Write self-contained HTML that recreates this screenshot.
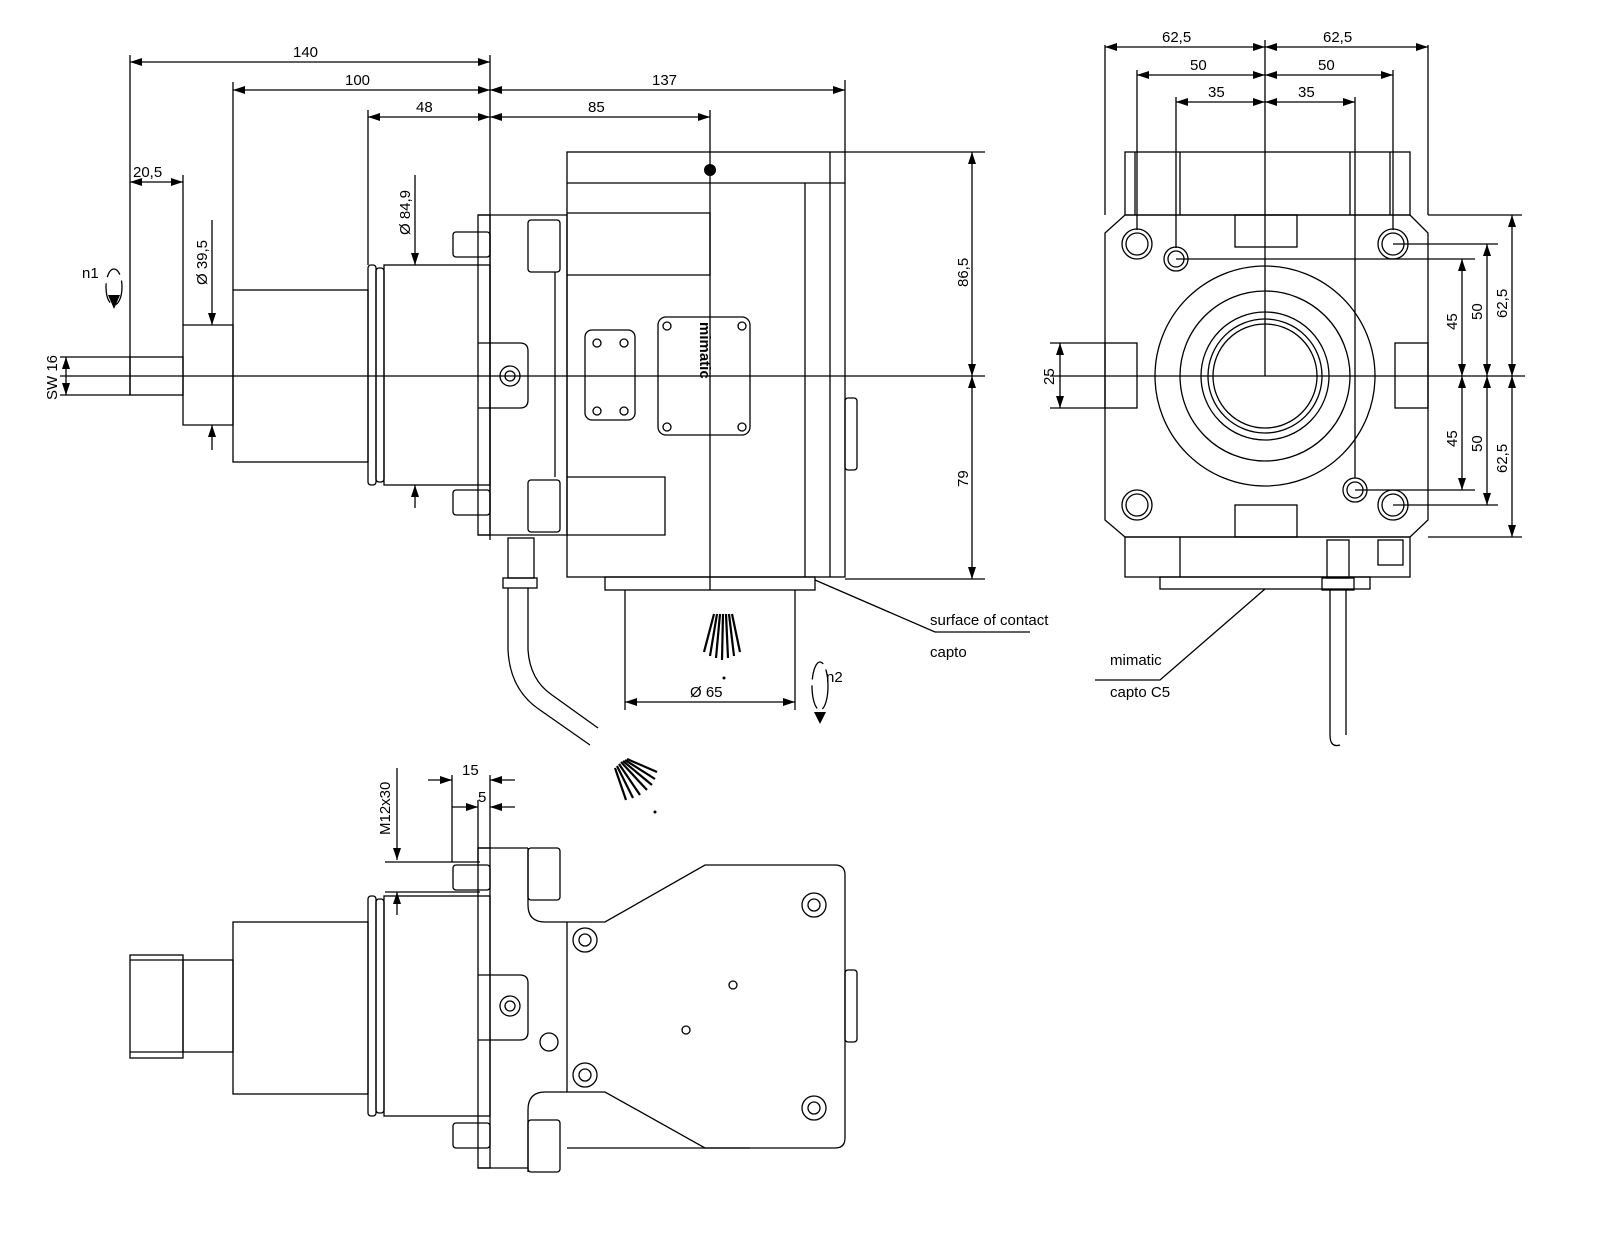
<!DOCTYPE html>
<html><head><meta charset="utf-8"><style>
html,body{margin:0;padding:0;background:#fff}
svg{display:block}
text{font-family:"Liberation Sans",sans-serif;font-size:15px;fill:#000}
</style></head><body>
<svg width="1600" height="1245" viewBox="0 0 1600 1245" xmlns="http://www.w3.org/2000/svg">
<defs>
<marker id="a" markerWidth="12" markerHeight="8" refX="12" refY="4" orient="auto-start-reverse" markerUnits="userSpaceOnUse"><path d="M0,0 L12,4 L0,8 z" fill="#000"/></marker>
</defs>
<g stroke="#000" fill="none" stroke-width="1.3">
<line x1="130" y1="55" x2="130" y2="395"/>
<line x1="233" y1="82" x2="233" y2="290"/>
<line x1="368" y1="110" x2="368" y2="265"/>
<line x1="490" y1="55" x2="490" y2="540"/>
<line x1="845" y1="80" x2="845" y2="152"/>
<line x1="183" y1="175" x2="183" y2="325"/>
<line x1="710" y1="110" x2="710" y2="590"/>
<line x1="130" y1="62" x2="490" y2="62" marker-start="url(#a)" marker-end="url(#a)"/>
<line x1="233" y1="90" x2="490" y2="90" marker-start="url(#a)" marker-end="url(#a)"/>
<line x1="490" y1="90" x2="845" y2="90" marker-start="url(#a)" marker-end="url(#a)"/>
<line x1="368" y1="117" x2="490" y2="117" marker-start="url(#a)" marker-end="url(#a)"/>
<line x1="490" y1="117" x2="710" y2="117" marker-start="url(#a)" marker-end="url(#a)"/>
<line x1="130" y1="182" x2="183" y2="182" marker-start="url(#a)" marker-end="url(#a)"/>
<line x1="212" y1="220" x2="212" y2="325" marker-end="url(#a)"/>
<line x1="212" y1="450" x2="212" y2="425" marker-end="url(#a)"/>
<line x1="415" y1="175" x2="415" y2="265" marker-end="url(#a)"/>
<line x1="415" y1="508" x2="415" y2="485" marker-end="url(#a)"/>
<line x1="60" y1="357" x2="130" y2="357"/><line x1="60" y1="395" x2="130" y2="395"/>
<line x1="66" y1="357" x2="66" y2="395" marker-start="url(#a)" marker-end="url(#a)"/>
<line x1="60" y1="376" x2="985" y2="376"/>
<line x1="845" y1="152" x2="985" y2="152"/><line x1="845" y1="579" x2="985" y2="579"/>
<line x1="972" y1="152" x2="972" y2="376" marker-start="url(#a)" marker-end="url(#a)"/>
<line x1="972" y1="376" x2="972" y2="579" marker-start="url(#a)" marker-end="url(#a)"/>
<rect x="130" y="357" width="53" height="38"/>
<path d="M183 325 H233 V425 H183 Z"/>
<rect x="233" y="290" width="135" height="172"/>
<rect x="368" y="265" width="8" height="220" rx="3"/>
<rect x="376" y="268" width="8" height="214" rx="3"/>
<rect x="384" y="265" width="106" height="220"/>
<rect x="478" y="215" width="12" height="320"/>
<rect x="453" y="232" width="37" height="25" rx="3"/>
<rect x="453" y="490" width="37" height="25" rx="3"/>
<path d="M478 215 H567 V535 H478"/>
<rect x="528" y="220" width="32" height="52" rx="3"/>
<rect x="528" y="480" width="32" height="52" rx="3"/>
<path d="M478 343 H520 Q528 343 528 351 V400 Q528 408 520 408 H478"/>
<circle cx="510" cy="376" r="10"/><circle cx="510" cy="376" r="5"/>
<rect x="567" y="152" width="278" height="425"/>
<line x1="567" y1="183" x2="845" y2="183"/>
<line x1="805" y1="183" x2="805" y2="577"/><line x1="830" y1="152" x2="830" y2="577"/>
<path d="M567 213 H710 V275 H567"/><path d="M567 477 H665 V535 H567"/>
<line x1="555" y1="272" x2="555" y2="477"/>
<rect x="845" y="398" width="12" height="72" rx="3"/>
<rect x="585" y="330" width="50" height="90" rx="7"/>
<circle cx="597" cy="343" r="4"/><circle cx="624" cy="343" r="4"/><circle cx="597" cy="411" r="4"/><circle cx="624" cy="411" r="4"/>
<rect x="658" y="317" width="92" height="118" rx="8"/>
<circle cx="667" cy="326" r="4"/><circle cx="742" cy="326" r="4"/><circle cx="667" cy="427" r="4"/><circle cx="742" cy="427" r="4"/>
<rect x="605" y="577" width="210" height="13"/>
<line x1="625" y1="590" x2="625" y2="710"/><line x1="795" y1="590" x2="795" y2="710"/>
<line x1="625" y1="702" x2="795" y2="702" marker-start="url(#a)" marker-end="url(#a)"/>
<path d="M815 580 L935 632 H1030"/>
<rect x="508" y="538" width="26" height="40"/><rect x="503" y="578" width="34" height="10"/>
<path d="M508 588 V650 Q510 690 540 710 L590 745 M528 588 V650 Q530 680 552 695 L598 728"/>
<ellipse cx="114" cy="287" rx="8" ry="18" stroke-dasharray="20 6"/>
<ellipse cx="820" cy="686" rx="8" ry="24" stroke-dasharray="24 6"/>
<line x1="1105" y1="45" x2="1105" y2="215"/><line x1="1428" y1="45" x2="1428" y2="215"/>
<line x1="1137" y1="70" x2="1137" y2="230"/><line x1="1393" y1="70" x2="1393" y2="230"/>
<line x1="1176" y1="97" x2="1176" y2="248"/><line x1="1355" y1="97" x2="1355" y2="478"/>
<line x1="1265" y1="40" x2="1265" y2="376"/>
<line x1="1105" y1="47" x2="1265" y2="47" marker-start="url(#a)" marker-end="url(#a)"/>
<line x1="1265" y1="47" x2="1428" y2="47" marker-start="url(#a)" marker-end="url(#a)"/>
<line x1="1137" y1="75" x2="1265" y2="75" marker-start="url(#a)" marker-end="url(#a)"/>
<line x1="1265" y1="75" x2="1393" y2="75" marker-start="url(#a)" marker-end="url(#a)"/>
<line x1="1176" y1="102" x2="1265" y2="102" marker-start="url(#a)" marker-end="url(#a)"/>
<line x1="1265" y1="102" x2="1355" y2="102" marker-start="url(#a)" marker-end="url(#a)"/>
<rect x="1125" y="152" width="285" height="63"/>
<line x1="1180" y1="152" x2="1180" y2="215"/><line x1="1350" y1="152" x2="1350" y2="215"/>
<line x1="1390" y1="152" x2="1390" y2="215"/><line x1="1135" y1="152" x2="1135" y2="215"/>
<path d="M1125 215 H1410 L1428 233 V520 L1410 537 H1125 L1105 520 V233 Z"/>
<rect x="1235" y="215" width="62" height="32"/><rect x="1235" y="505" width="62" height="32"/>
<rect x="1105" y="343" width="32" height="65"/><rect x="1395" y="343" width="33" height="65"/>
<circle cx="1265" cy="376" r="110"/><circle cx="1265" cy="376" r="85"/>
<circle cx="1265" cy="376" r="64"/><circle cx="1265" cy="376" r="57"/><circle cx="1265" cy="376" r="52"/>
<circle cx="1137" cy="244" r="15"/><circle cx="1137" cy="244" r="11"/>
<circle cx="1393" cy="244" r="15"/><circle cx="1393" cy="244" r="11"/>
<circle cx="1137" cy="505" r="15"/><circle cx="1137" cy="505" r="11"/>
<circle cx="1393" cy="505" r="15"/><circle cx="1393" cy="505" r="11"/>
<circle cx="1176" cy="259" r="12"/><circle cx="1176" cy="259" r="8"/>
<circle cx="1355" cy="490" r="12"/><circle cx="1355" cy="490" r="8"/>
<line x1="1050" y1="376" x2="1525" y2="376"/>
<line x1="1050" y1="343" x2="1105" y2="343"/><line x1="1050" y1="408" x2="1105" y2="408"/>
<line x1="1060" y1="343" x2="1060" y2="408" marker-start="url(#a)" marker-end="url(#a)"/>
<line x1="1176" y1="259" x2="1475" y2="259"/><line x1="1355" y1="490" x2="1475" y2="490"/>
<line x1="1393" y1="244" x2="1498" y2="244"/><line x1="1393" y1="505" x2="1498" y2="505"/>
<line x1="1428" y1="215" x2="1522" y2="215"/><line x1="1428" y1="537" x2="1522" y2="537"/>
<line x1="1462" y1="259" x2="1462" y2="376" marker-start="url(#a)" marker-end="url(#a)"/>
<line x1="1462" y1="376" x2="1462" y2="490" marker-start="url(#a)" marker-end="url(#a)"/>
<line x1="1487" y1="244" x2="1487" y2="376" marker-start="url(#a)" marker-end="url(#a)"/>
<line x1="1487" y1="376" x2="1487" y2="505" marker-start="url(#a)" marker-end="url(#a)"/>
<line x1="1512" y1="215" x2="1512" y2="376" marker-start="url(#a)" marker-end="url(#a)"/>
<line x1="1512" y1="376" x2="1512" y2="537" marker-start="url(#a)" marker-end="url(#a)"/>
<rect x="1125" y="537" width="285" height="40"/><line x1="1180" y1="537" x2="1180" y2="577"/>
<rect x="1378" y="540" width="25" height="25"/>
<rect x="1160" y="577" width="210" height="12"/>
<path d="M1265 589 L1160 680 H1095"/>
<rect x="1327" y="540" width="22" height="38"/><rect x="1322" y="578" width="32" height="12"/>
<path d="M1330 590 V735 Q1330 748 1340 745 M1346 590 V735"/>
<line x1="397" y1="768" x2="397" y2="860" marker-end="url(#a)"/>
<line x1="397" y1="915" x2="397" y2="892" marker-end="url(#a)"/>
<line x1="385" y1="862" x2="480" y2="862"/><line x1="385" y1="892" x2="480" y2="892"/>
<line x1="452" y1="775" x2="452" y2="862"/><line x1="478" y1="800" x2="478" y2="862"/><line x1="490" y1="775" x2="490" y2="848"/>
<line x1="428" y1="780" x2="452" y2="780" marker-end="url(#a)"/><line x1="515" y1="780" x2="490" y2="780" marker-end="url(#a)"/>
<line x1="452" y1="807" x2="478" y2="807" marker-end="url(#a)"/><line x1="515" y1="807" x2="490" y2="807" marker-end="url(#a)"/>
<rect x="130" y="955" width="53" height="103"/><line x1="130" y1="960" x2="183" y2="960"/>
<line x1="130" y1="1052" x2="183" y2="1052"/>
<rect x="183" y="960" width="50" height="92"/>
<rect x="233" y="922" width="135" height="172"/>
<rect x="368" y="896" width="8" height="220" rx="3"/><rect x="376" y="899" width="8" height="214" rx="3"/>
<rect x="384" y="896" width="106" height="220"/>
<rect x="478" y="848" width="12" height="320"/>
<rect x="453" y="865" width="37" height="25" rx="3"/><rect x="453" y="1123" width="37" height="25" rx="3"/>
<path d="M478 848 H528 M478 1168 H528"/>
<rect x="528" y="848" width="32" height="52" rx="3"/><rect x="528" y="1120" width="32" height="52" rx="3"/>
<path d="M478 975 H520 Q528 975 528 983 V1032 Q528 1040 520 1040 H478"/>
<circle cx="510" cy="1006" r="10"/><circle cx="510" cy="1006" r="5"/>
<circle cx="549" cy="1042" r="9"/>
<path d="M528 848 V905 Q528 922 545 922 H605 L705 865 H835 Q845 865 845 875 V1138 Q845 1148 835 1148 H705 L605 1092 H545 Q528 1092 528 1110 V1172"/>
<path d="M567 922 V1092"/>
<rect x="845" y="970" width="12" height="72" rx="3"/>
<circle cx="585" cy="940" r="12"/><circle cx="585" cy="940" r="6"/>
<circle cx="585" cy="1075" r="12"/><circle cx="585" cy="1075" r="6"/>
<circle cx="814" cy="905" r="12"/><circle cx="814" cy="905" r="6"/>
<circle cx="814" cy="1108" r="12"/><circle cx="814" cy="1108" r="6"/>
<circle cx="733" cy="985" r="4"/><circle cx="686" cy="1030" r="4"/>
<line x1="567" y1="1148" x2="750" y2="1148"/>
</g>
<g stroke="#000" stroke-width="2.2">
<!-- fan 1: rays diverging downward from (722,585) -->
<line x1="714" y1="614" x2="704" y2="652"/>
<line x1="717" y1="614" x2="710" y2="656"/>
<line x1="720" y1="614" x2="716" y2="658"/>
<line x1="723" y1="614" x2="722" y2="660"/>
<line x1="726" y1="614" x2="728" y2="658"/>
<line x1="729" y1="614" x2="734" y2="656"/>
<line x1="732" y1="614" x2="740" y2="652"/>
<!-- fan 2: diverging down-right -->
<line x1="615" y1="768" x2="626" y2="800"/>
<line x1="617" y1="766" x2="633" y2="798"/>
<line x1="619" y1="764" x2="640" y2="795"/>
<line x1="621" y1="762" x2="647" y2="790"/>
<line x1="623" y1="761" x2="652" y2="785"/>
<line x1="625" y1="760" x2="655" y2="779"/>
<line x1="627" y1="759" x2="657" y2="772"/>
</g>
<g fill="#000">
<circle cx="710" cy="170" r="6"/>
<circle cx="724" cy="678" r="1.5"/>
<circle cx="655" cy="812" r="1.5"/>
<path d="M108 295 L114 309 L120 295 Z"/>
<path d="M814 712 L820 724 L826 712 Z"/>
</g>
<text x="293" y="57">140</text><text x="345" y="85">100</text><text x="652" y="85">137</text>
<text x="416" y="112">48</text><text x="588" y="112">85</text><text x="133" y="177" font-size="13">20,5</text>
<text transform="translate(207,285) rotate(-90)">Ø 39,5</text>
<text transform="translate(410,235) rotate(-90)">Ø 84,9</text>
<text transform="translate(57,400) rotate(-90)" font-size="14">SW 16</text>
<text x="82" y="278">n1</text><text x="826" y="682">n2</text>
<text transform="translate(968,287) rotate(-90)">86,5</text>
<text transform="translate(968,487) rotate(-90)">79</text>
<text x="690" y="697">Ø 65</text>
<text transform="translate(700,322) rotate(90)" font-size="18" font-weight="bold">mimatic</text>
<text x="930" y="625" font-size="11">surface of contact</text>
<text x="930" y="657" font-size="11">capto</text>
<text x="1110" y="665" font-size="11">mimatic</text>
<text x="1110" y="697" font-size="11">capto C5</text>
<text x="1162" y="42">62,5</text><text x="1323" y="42">62,5</text>
<text x="1190" y="70">50</text><text x="1318" y="70">50</text>
<text x="1208" y="97">35</text><text x="1298" y="97">35</text>
<text transform="translate(1054,385) rotate(-90)">25</text>
<text transform="translate(1457,330) rotate(-90)">45</text>
<text transform="translate(1482,320) rotate(-90)">50</text>
<text transform="translate(1507,318) rotate(-90)">62,5</text>
<text transform="translate(1457,447) rotate(-90)">45</text>
<text transform="translate(1482,452) rotate(-90)">50</text>
<text transform="translate(1507,473) rotate(-90)">62,5</text>
<text x="462" y="775">15</text><text x="478" y="802">5</text>
<text transform="translate(390,835) rotate(-90)">M12x30</text>
</svg>
</body></html>
